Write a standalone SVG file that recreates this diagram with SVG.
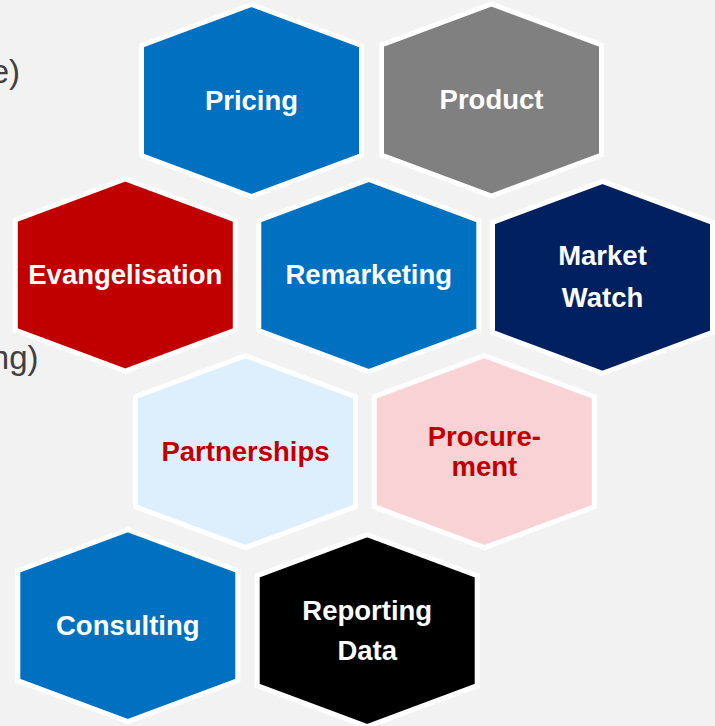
<svg xmlns="http://www.w3.org/2000/svg" xmlns:xlink="http://www.w3.org/1999/xlink" width="715" height="726" viewBox="0 0 715 726">
<style>
.hex{stroke:#ffffff;stroke-width:5}
.lbl{font-family:"Liberation Sans",Arial,sans-serif;font-weight:bold;font-size:27.5px;text-anchor:middle;fill:#ffffff}
.red{fill:#c00000}
.side{font-family:"Liberation Sans",Arial,sans-serif;font-size:33px;fill:#404040;text-anchor:end}
</style>
<defs>
<path id="hx" d="M0,-96 L110,-55 L110,55 L0,96 L-110,55 L-110,-55 Z"/>
</defs>
<rect width="715" height="726" fill="#f2f2f2"/>
<text class="side" x="20" y="83">e)</text>
<text class="side" x="38.5" y="369">ng)</text>
<g id="pricing" transform="translate(251.5,100.5)">
<use xlink:href="#hx" class="hex" fill="#0070c0"/>
<text class="lbl" x="0" y="9.5">Pricing</text>
</g>
<g id="product" transform="translate(491.5,100)">
<use xlink:href="#hx" class="hex" fill="#808080"/>
<text class="lbl" x="0" y="9">Product</text>
</g>
<g id="evangelisation" transform="translate(125.3,275)">
<use xlink:href="#hx" class="hex" fill="#c00000"/>
<text class="lbl" x="0" y="8.5">Evangelisation</text>
</g>
<g id="remarketing" transform="translate(368.8,275.5)">
<use xlink:href="#hx" class="hex" fill="#0070c0"/>
<text class="lbl" x="0" y="8.5">Remarketing</text>
</g>
<g id="market-watch" transform="translate(602.5,277.3)">
<use xlink:href="#hx" class="hex" fill="#002060"/>
<text class="lbl" x="0" y="-12">Market</text>
<text class="lbl" x="0" y="29.5">Watch</text>
</g>
<g id="partnerships" transform="translate(245.5,451.7)">
<use xlink:href="#hx" class="hex" fill="#ddeffc"/>
<text class="lbl red" x="0" y="9.3">Partnerships</text>
</g>
<g id="procurement" transform="translate(484.3,451.7)">
<use xlink:href="#hx" class="hex" fill="#f9d2d6"/>
<text class="lbl red" x="0" y="-5.7">Procure-</text>
<text class="lbl red" x="0" y="24.3">ment</text>
</g>
<g id="consulting" transform="translate(127.8,625.7)">
<use xlink:href="#hx" class="hex" fill="#0070c0"/>
<text class="lbl" x="0" y="9.3">Consulting</text>
</g>
<g id="reporting-data" transform="translate(367.2,630.7)">
<use xlink:href="#hx" class="hex" fill="#000000"/>
<text class="lbl" x="0" y="-11.2">Reporting</text>
<text class="lbl" x="0" y="29.3">Data</text>
</g>
</svg>
